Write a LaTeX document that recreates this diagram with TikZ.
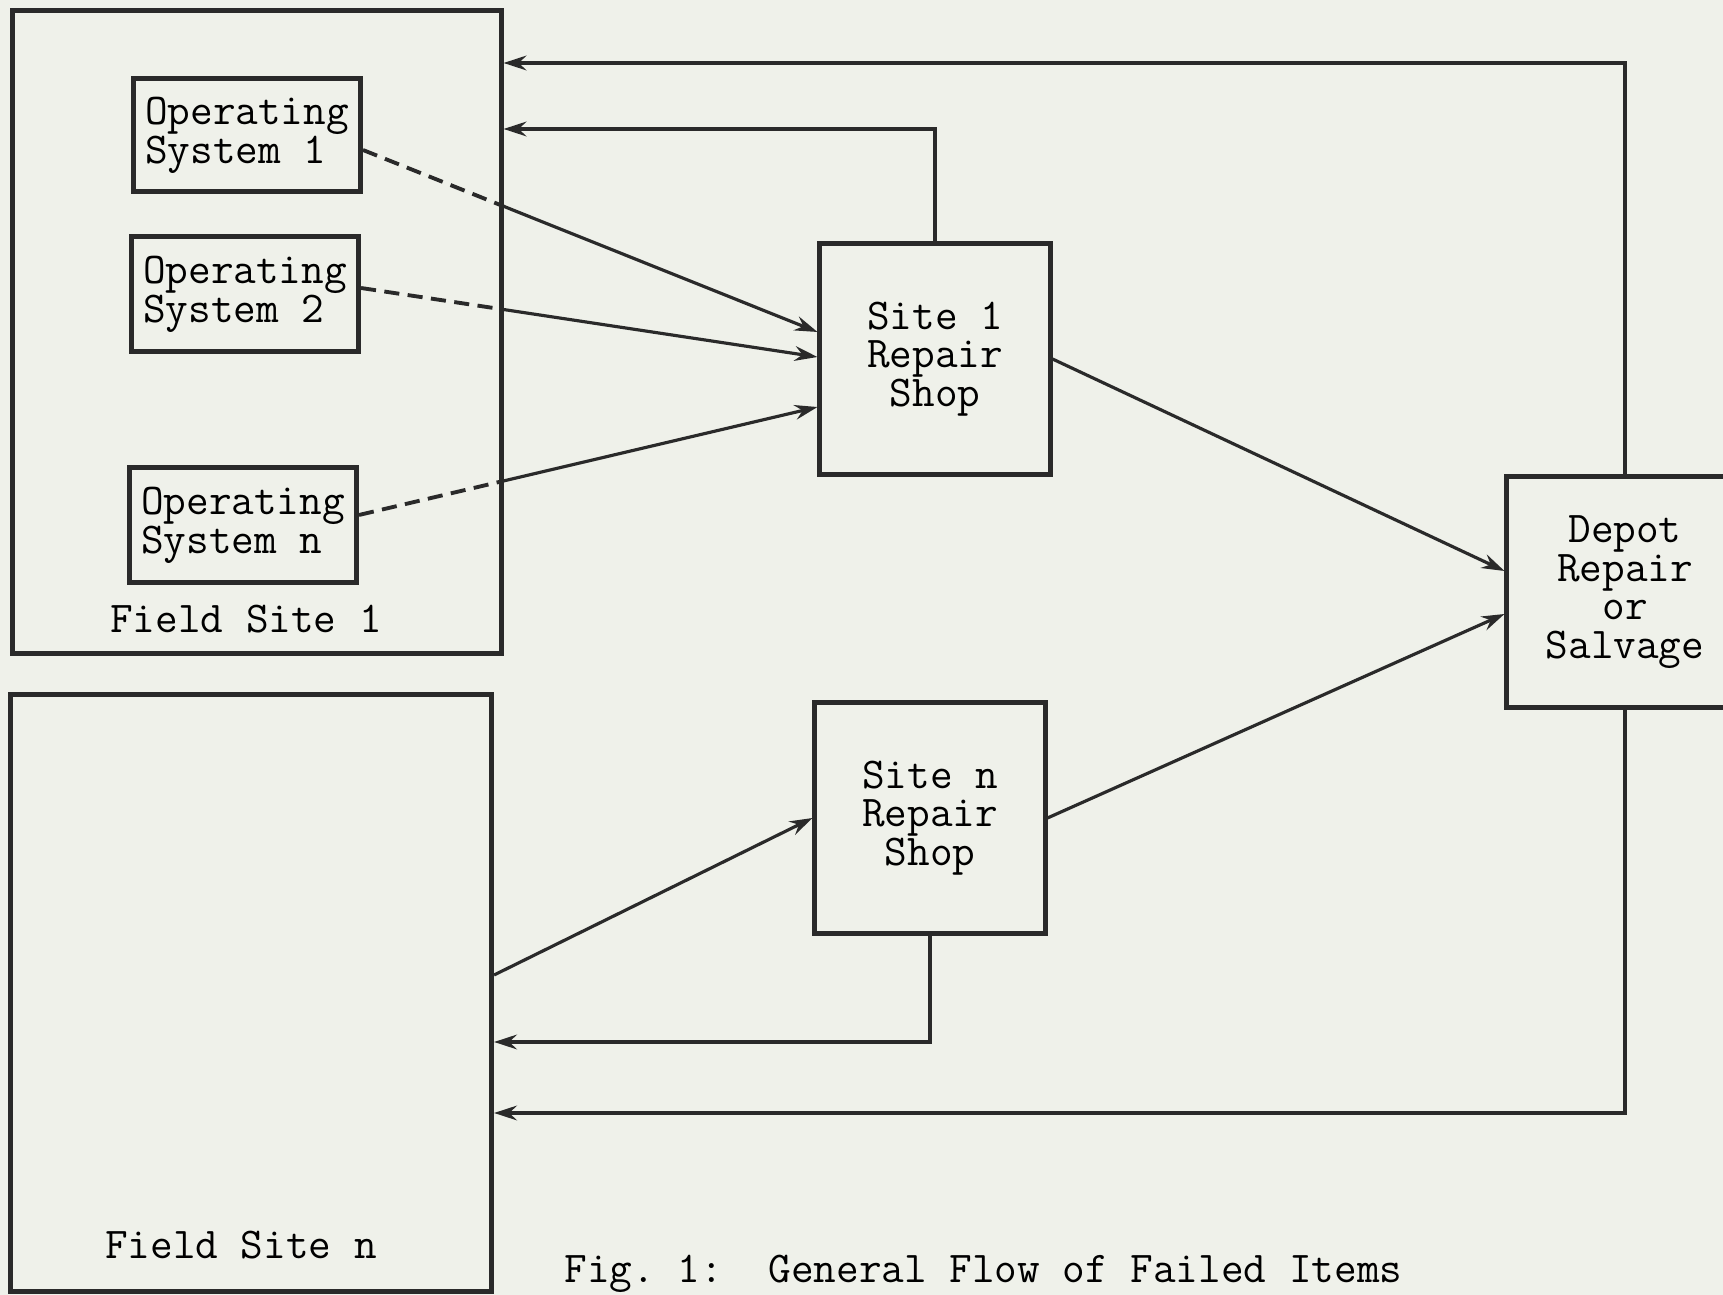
\documentclass[tikz,border=0pt]{standalone}
\usepackage{tikz}
\usetikzlibrary{arrows.meta,positioning,calc}
\usepackage{xcolor}
\definecolor{Paper}{HTML}{EFF1EA}
\definecolor{Ink}{HTML}{2A2A2A}
\newcommand{\typew}{\ttfamily\fontsize{12.5}{11}\selectfont}
\tikzset{
  fieldbox/.style={draw=Ink, line width=1.4pt},
  opbox/.style={draw=Ink, line width=1.4pt, minimum width=2.27cm,
    minimum height=1.15cm, align=left, inner sep=1pt, font=\typew},
  shopbox/.style={draw=Ink, line width=1.4pt, minimum width=2.3cm,
    minimum height=2.3cm, align=center, font=\typew},
  flowarr/.style={-{Stealth[length=6.5pt,width=4.2pt,inset=2.2pt]}, line width=0.9pt, color=Ink},
  feedline/.style={line width=1.1pt, color=Ink, dash pattern=on 4.3pt off 2.4pt},
}

\begin{document}
\begin{tikzpicture}[x=0.01cm, y=-0.01cm]
  \useasboundingbox (0,0) rectangle (1723,1295);
  \fill[Paper] (0,0) rectangle (1723,1295);
  % field sites
  \node[fieldbox, minimum width=4.88cm, minimum height=6.43cm] (fs1) at (257,332) {};
  \node[fieldbox, minimum width=4.81cm, minimum height=5.96cm] (fsn) at (251,993) {};
  \node[font=\typew] (fs1lbl) at (246,619) {Field Site 1};
  \node[font=\typew] (fsnlbl) at (241,1245) {Field Site n};
  % operating systems
  \node[opbox, minimum height=1.13cm] (os1) at (247,135) {Operating\\System 1};
  \node[opbox] (os2) at (245,294) {Operating\\System 2};
  \node[opbox] (osn) at (243,525) {Operating\\System n};
  % repair shops and depot
  \node[shopbox] (site1) at (935,359) {Site 1\\Repair\\Shop};
  \node[shopbox] (siten) at (930,818) {Site n\\Repair\\Shop};
  \node[shopbox, minimum width=2.36cm] (depot) at (1625,592) {Depot\\Repair\\or\\Salvage};

  % failed items to site 1 shop
  \coordinate (o1) at ([yshift=-0.15cm]os1.east);
  \coordinate (o2) at ([yshift=0.06cm]os2.east);
  \coordinate (on) at ([yshift=0.1cm]osn.east);
  \coordinate (s1a) at ([yshift=0.27cm]site1.west);
  \coordinate (s1b) at ([yshift=0.02cm]site1.west);
  \coordinate (s1c) at ([yshift=-0.48cm]site1.west);
  \draw[feedline] (o1) -- (intersection of o1--s1a and fs1.north east--fs1.south east) coordinate (c1);
  \draw[flowarr] (c1) -- (s1a);
  \draw[feedline] (o2) -- (intersection of o2--s1b and fs1.north east--fs1.south east) coordinate (c2);
  \draw[flowarr] (c2) -- (s1b);
  \draw[feedline] (on) -- (intersection of on--s1c and fs1.north east--fs1.south east) coordinate (cn);
  \draw[flowarr] (cn) -- (s1c);

  \draw[flowarr] ([yshift=0.18cm]fsn.east) -- (siten.west);
  \draw[flowarr] (site1.east) -- ([yshift=0.21cm]depot.west);
  \draw[flowarr] (siten.east) -- ([yshift=-0.22cm]depot.west);

  % returns
  \coordinate (toprow) at (0,63);
  \coordinate (midrow) at (0,129);
  \coordinate (lowrow) at (0,1042);
  \coordinate (botrow) at (0,1113);
  \draw[flowarr] (depot.north) |- (fs1.east |- toprow);
  \draw[flowarr] (site1.north) |- (fs1.east |- midrow);
  \draw[flowarr] (siten.south) |- (fsn.east |- lowrow);
  \draw[flowarr] (depot.south) |- (fsn.east |- botrow);

  \node[font=\typew, anchor=base west, inner sep=0pt] (caption) at (564,1283)
    {Fig.~1:\ \ General Flow of Failed Items};
\end{tikzpicture}
\end{document}
